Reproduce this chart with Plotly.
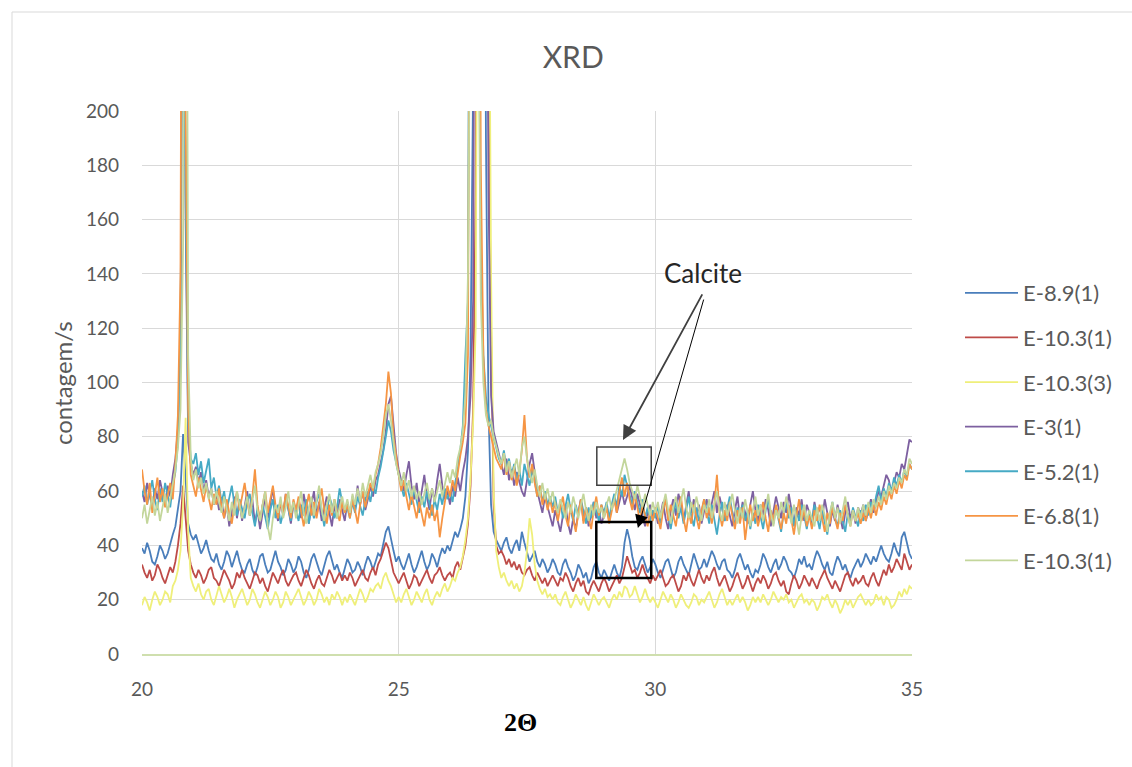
import numpy as np
import plotly.graph_objects as go

# 2-theta sampling grid (step 0.05 degree)
two_theta = np.round(np.linspace(20, 35, 301), 2)

e_8_9_1 = [
    39, 37, 41, 38, 34, 33, 36, 40, 38, 35, 37, 41, 44, 47, 53, 60, 81, 64, 48, 44,
    42, 44, 40, 37, 39, 42, 38, 35, 34, 37, 33, 31, 34, 38, 36, 32, 35, 38, 34, 31,
    30, 33, 35, 31, 29, 32, 36, 37, 33, 30, 31, 35, 38, 34, 32, 29, 31, 35, 33, 30,
    32, 36, 34, 30, 28, 31, 35, 37, 34, 31, 29, 33, 36, 38, 34, 31, 33, 30, 28, 32,
    35, 33, 30, 31, 34, 32, 29, 33, 36, 34, 31, 34, 37, 36, 40, 45, 47, 42, 38, 34,
    36, 33, 31, 34, 37, 33, 30, 32, 35, 38, 34, 31, 33, 37, 35, 32, 36, 39, 37, 40,
    38, 42, 45, 43, 46, 50, 58, 75, 110, 210, 620, 900, 760, 420, 190, 90, 55, 45, 42, 40,
    38, 41, 43, 39, 37, 40, 42, 38, 45, 41, 37, 34, 36, 38, 34, 32, 35, 33, 30, 32,
    35, 33, 30, 29, 33, 35, 32, 30, 27, 29, 33, 31, 28, 30, 26, 28, 32, 34, 30, 28,
    31, 29, 27, 30, 33, 30, 28, 32, 41, 46, 42, 36, 32, 31, 34, 36, 33, 30, 32, 35,
    33, 30, 28, 31, 34, 35, 31, 28, 30, 34, 36, 33, 31, 29, 33, 37, 34, 31, 32, 35,
    32, 35, 38, 36, 33, 31, 34, 35, 31, 30, 28, 31, 35, 37, 34, 31, 33, 30, 28, 31,
    30, 33, 37, 35, 32, 30, 33, 35, 31, 33, 36, 34, 31, 30, 28, 31, 35, 33, 36, 32,
    33, 31, 35, 38, 36, 33, 31, 34, 30, 29, 33, 36, 34, 31, 33, 30, 28, 31, 33, 35,
    32, 34, 37, 35, 33, 36, 34, 37, 40, 37, 35, 34, 37, 41, 38, 36, 43, 45, 41, 37,
    35,
]

e_10_3_1 = [
    33, 30, 28, 31, 27, 29, 33, 31, 28, 26, 29, 32, 30, 34, 40, 48, 62, 50, 38, 33,
    30, 28, 31, 29, 26, 28, 31, 32, 28, 27, 25, 28, 31, 29, 27, 24, 26, 30, 28, 31,
    28, 26, 24, 27, 30, 29, 26, 28, 25, 23, 27, 30, 28, 26, 29, 31, 27, 25, 27, 29,
    30, 27, 25, 28, 31, 29, 26, 24, 27, 29, 26, 25, 28, 31, 29, 26, 28, 30, 27, 29,
    27, 30, 28, 25, 27, 29, 31, 28, 27, 30, 32, 29, 33, 35, 38, 41, 39, 34, 30, 28,
    26, 28, 30, 27, 24, 26, 29, 28, 25, 27, 29, 31, 28, 26, 29, 30, 32, 29, 27, 29,
    30, 28, 32, 34, 31, 36, 40, 48, 62, 90, 170, 420, 850, 640, 350, 210, 120, 55, 40, 37,
    38, 36, 33, 35, 32, 34, 31, 33, 30, 29, 31, 32, 29, 27, 30, 28, 26, 28, 25, 27,
    29, 27, 25, 28, 27, 30, 28, 25, 23, 26, 28, 25, 27, 23, 22, 25, 27, 25, 23, 26,
    28, 26, 23, 25, 27, 29, 26, 28, 32, 36, 33, 30, 31, 28, 30, 33, 30, 28, 26, 29,
    27, 29, 31, 28, 25, 26, 28, 29, 26, 23, 25, 29, 27, 30, 27, 25, 28, 31, 28, 26,
    29, 27, 30, 32, 28, 25, 27, 29, 26, 23, 25, 28, 30, 27, 24, 26, 29, 26, 23, 26,
    28, 26, 29, 27, 24, 26, 29, 30, 27, 25, 27, 23, 22, 26, 29, 27, 24, 26, 29, 27,
    25, 28, 26, 24, 27, 29, 31, 28, 26, 24, 27, 25, 23, 26, 29, 30, 27, 25, 28, 26,
    27, 29, 26, 25, 28, 30, 27, 25, 28, 31, 29, 33, 30, 32, 35, 33, 31, 37, 34, 31,
    33,
]

e_10_3_3 = [
    18, 21, 19, 16, 20, 23, 21, 18, 20, 23, 22, 19, 25, 27, 31, 38, 55, 87, 45, 28,
    25, 23, 26, 22, 20, 23, 24, 20, 18, 22, 25, 22, 19, 21, 24, 21, 17, 20, 22, 24,
    21, 18, 20, 24, 22, 19, 17, 20, 23, 21, 18, 20, 23, 21, 17, 19, 23, 21, 18, 20,
    22, 24, 21, 18, 20, 23, 21, 18, 20, 24, 22, 19, 21, 18, 22, 20, 23, 21, 18, 21,
    19, 22, 20, 18, 21, 24, 22, 19, 21, 24, 23, 25, 26, 24, 28, 30, 27, 25, 22, 19,
    21, 19, 22, 24, 21, 18, 20, 23, 21, 19, 22, 24, 20, 18, 21, 23, 21, 24, 26, 23,
    25, 28, 27, 30, 32, 36, 42, 50, 65, 85, 120, 230, 600, 880, 650, 300, 140, 60, 38, 32,
    28, 30, 27, 25, 27, 24, 26, 23, 25, 30, 38, 50, 44, 33, 27, 24, 22, 24, 21, 22,
    20, 22, 19, 18, 21, 23, 20, 17, 19, 22, 20, 18, 21, 18, 16, 19, 22, 20, 18, 20,
    21, 19, 17, 20, 22, 20, 23, 21, 25, 24, 21, 22, 25, 22, 19, 21, 24, 21, 19, 21,
    19, 17, 20, 23, 21, 19, 22, 20, 17, 19, 22, 20, 18, 17, 19, 22, 21, 18, 20, 19,
    21, 23, 20, 17, 19, 22, 24, 21, 18, 20, 18, 20, 22, 19, 21, 19, 16, 18, 21, 19,
    21, 19, 22, 20, 18, 20, 23, 21, 19, 21, 20, 22, 19, 20, 17, 19, 21, 22, 19, 20,
    18, 20, 19, 16, 18, 21, 20, 22, 19, 17, 20, 18, 15, 17, 20, 18, 20, 17, 19, 21,
    22, 20, 18, 20, 18, 19, 22, 20, 21, 18, 21, 20, 17, 18, 20, 23, 21, 24, 22, 25,
    24,
]

e_3_1 = [
    60, 56, 63, 58, 54, 61, 57, 64, 59, 55, 62, 58, 66, 72, 83, 110, 330, 160, 78, 70,
    66, 69, 63, 67, 60, 64, 58, 61, 55, 59, 53, 57, 50, 55, 47, 52, 58, 50, 56, 49,
    54, 60, 51, 57, 48, 53, 46, 52, 58, 50, 55, 61, 53, 49, 56, 51, 59, 54, 48, 55,
    52, 57, 50, 59, 53, 48, 55, 60, 51, 56, 49, 54, 58, 52, 47, 55, 50, 57, 53, 49,
    56, 51, 58, 53, 62, 55, 60, 53, 57, 62, 58, 64, 66, 70, 75, 82, 92, 95, 84, 74,
    68, 64, 60, 66, 71, 62, 57, 63, 55, 60, 66, 58, 53, 61, 56, 64, 70, 62, 57, 60,
    55, 62, 58, 65, 60, 67, 72, 80, 95, 130, 220, 520, 900, 640, 330, 170, 95, 82, 78, 74,
    70, 66, 72, 64, 68, 62, 67, 63, 60, 58, 65, 70, 74, 66, 60, 56, 52, 58, 54, 50,
    47, 53, 49, 45, 51, 55, 48, 44, 50, 46, 52, 57, 49, 54, 47, 52, 56, 50, 53, 48,
    51, 55, 49, 54, 58, 52, 56, 60, 55, 58, 62, 57, 53, 59, 55, 50, 47, 52, 55, 50,
    53, 48, 51, 56, 50, 46, 53, 57, 51, 59, 55, 49, 54, 60, 52, 57, 50, 55, 48, 53,
    57, 51, 56, 60, 52, 58, 54, 49, 55, 51, 47, 53, 58, 50, 56, 52, 48, 55, 60, 53,
    49, 55, 51, 57, 53, 47, 52, 58, 54, 50, 56, 52, 59, 53, 48, 54, 51, 57, 49, 55,
    52, 48, 56, 51, 54, 50, 57, 52, 47, 53, 49, 55, 51, 46, 52, 56, 50, 53, 48, 54,
    51, 55, 49, 53, 57, 52, 56, 60, 58, 62, 66, 64, 59, 63, 67, 65, 70, 68, 74, 79,
    78,
]

e_5_2_1 = [
    58, 62, 55, 60, 64, 57, 53, 61, 56, 63, 59, 54, 62, 67, 78, 115, 300, 170, 85, 72,
    70, 74, 66, 71, 63, 68, 72, 61, 65, 58, 62, 56, 60, 53, 58, 62, 55, 51, 57, 53,
    50, 56, 59, 52, 47, 54, 49, 55, 51, 46, 53, 57, 50, 55, 48, 52, 58, 53, 49, 56,
    53, 49, 55, 51, 57, 48, 54, 50, 56, 59, 52, 47, 53, 58, 55, 50, 54, 61, 56, 52,
    54, 50, 56, 52, 58, 54, 51, 57, 60, 56, 62, 59, 65, 69, 74, 80, 86, 82, 75, 70,
    66, 62, 58, 63, 59, 55, 61, 57, 52, 58, 54, 60, 56, 51, 57, 53, 59, 55, 61, 57,
    60, 56, 63, 68, 75, 84, 110, 130, 420, 880, 600, 280, 150, 110, 95, 88, 84, 80, 76, 72,
    70, 75, 68, 72, 66, 70, 64, 68, 62, 70, 66, 62, 68, 64, 58, 62, 56, 60, 55, 58,
    54, 58, 52, 56, 50, 55, 59, 53, 49, 55, 51, 57, 53, 48, 54, 50, 56, 52, 49, 55,
    52, 56, 50, 55, 59, 54, 62, 58, 66, 62, 58, 55, 60, 56, 52, 57, 50, 54, 49, 53,
    50, 55, 48, 53, 57, 51, 46, 52, 56, 50, 54, 48, 53, 58, 51, 47, 54, 49, 52, 57,
    53, 48, 55, 50, 44, 51, 56, 49, 53, 58, 52, 47, 54, 50, 55, 49, 53, 46, 52, 48,
    55, 50, 46, 53, 57, 51, 48, 54, 49, 45, 52, 56, 50, 54, 47, 53, 49, 55, 51, 46,
    52, 49, 55, 50, 46, 53, 48, 44, 51, 56, 50, 47, 53, 49, 45, 52, 48, 54, 50, 47,
    53, 49, 55, 51, 56, 53, 58, 62, 56, 61, 58, 63, 60, 65, 62, 66, 63, 68, 65, 70,
    68,
]

e_6_8_1 = [
    68, 60, 55, 63, 52, 58, 65, 56, 61, 54, 59, 63, 57, 70, 88, 140, 450, 200, 90, 66,
    62, 58, 65, 60, 56, 62, 57, 53, 59, 55, 61, 54, 50, 57, 52, 48, 55, 60, 53, 58,
    63, 56, 51, 58, 68, 55, 49, 55, 60, 52, 57, 62, 55, 50, 56, 52, 59, 54, 50, 57,
    53, 58, 52, 47, 54, 59, 51, 56, 50, 55, 61, 53, 48, 55, 51, 57, 52, 49, 56, 52,
    55, 50, 57, 53, 48, 55, 60, 54, 58, 63, 60, 66, 70, 76, 84, 92, 104, 96, 80, 72,
    66, 60, 64, 58, 53, 59, 55, 50, 56, 52, 47, 54, 50, 55, 49, 53, 43, 50, 57, 62,
    58, 64, 60, 67, 73, 78, 85, 110, 190, 700, 880, 420, 180, 110, 90, 84, 80, 76, 72, 70,
    68, 74, 66, 71, 64, 69, 62, 67, 75, 88, 72, 65, 70, 63, 58, 62, 55, 59, 53, 57,
    52, 56, 49, 54, 58, 51, 47, 55, 50, 45, 52, 57, 48, 54, 50, 46, 53, 58, 51, 55,
    50, 54, 48, 53, 57, 52, 60, 65, 58, 63, 57, 53, 59, 54, 49, 55, 51, 47, 53, 49,
    54, 50, 46, 53, 57, 49, 55, 51, 47, 54, 58, 50, 45, 52, 48, 55, 51, 46, 53, 57,
    50, 54, 48, 55, 66, 52, 47, 53, 49, 56, 51, 46, 53, 48, 54, 42, 50, 55, 49, 53,
    47, 52, 56, 50, 45, 53, 49, 55, 51, 46, 52, 48, 55, 50, 44, 51, 57, 49, 53, 47,
    51, 46, 53, 49, 55, 50, 45, 52, 48, 54, 50, 46, 52, 49, 55, 51, 47, 53, 49, 52,
    48, 52, 49, 54, 50, 55, 51, 56, 53, 58, 55, 60, 57, 62, 59, 64, 61, 66, 64, 70,
    68,
]

e_10_3_1b = [
    50, 55, 48, 53, 58, 51, 56, 49, 54, 59, 52, 57, 63, 68, 76, 90, 150, 420, 110, 72,
    64, 68, 61, 65, 59, 63, 57, 61, 55, 60, 56, 52, 58, 54, 49, 56, 51, 60, 55, 50,
    54, 58, 51, 56, 62, 53, 49, 55, 60, 47, 42, 50, 55, 52, 58, 50, 54, 60, 52, 56,
    50, 55, 60, 52, 48, 54, 58, 51, 56, 62, 53, 49, 55, 59, 52, 57, 50, 54, 58, 53,
    57, 52, 59, 55, 61, 56, 63, 58, 62, 66, 61, 67, 70, 74, 80, 88, 92, 86, 78, 70,
    66, 62, 67, 60, 64, 58, 62, 57, 60, 55, 59, 63, 57, 61, 56, 60, 64, 58, 62, 67,
    63, 68, 65, 72, 76, 82, 95, 140, 260, 820, 600, 250, 130, 100, 88, 84, 86, 80, 76, 73,
    70, 74, 67, 71, 65, 69, 72, 66, 76, 80, 72, 67, 63, 68, 62, 58, 63, 57, 61, 56,
    60, 55, 52, 57, 53, 50, 56, 52, 58, 54, 50, 55, 59, 53, 49, 55, 51, 56, 52, 54,
    50, 55, 58, 53, 57, 61, 65, 68, 72, 68, 63, 60, 57, 62, 58, 54, 59, 55, 51, 56,
    52, 56, 50, 55, 59, 53, 48, 54, 58, 52, 57, 61, 54, 50, 56, 52, 58, 53, 49, 55,
    52, 57, 50, 55, 60, 53, 49, 56, 51, 55, 59, 53, 48, 54, 50, 57, 52, 47, 53, 58,
    51, 55, 49, 54, 59, 52, 47, 53, 50, 56, 52, 58, 53, 48, 55, 50, 44, 51, 55, 49,
    53, 50, 47, 54, 49, 55, 51, 45, 52, 56, 50, 54, 48, 53, 58, 51, 47, 53, 49, 54,
    50, 55, 51, 56, 52, 57, 54, 58, 55, 60, 57, 62, 59, 63, 61, 65, 63, 68, 66, 72,
    70,
]

series_names = ["E-8.9(1)", "E-10.3(1)", "E-10.3(3)", "E-3(1)", "E-5.2(1)", "E-6.8(1)", "E-10.3(1)"]
series_values = [e_8_9_1, e_10_3_1, e_10_3_3, e_3_1, e_5_2_1, e_6_8_1, e_10_3_1b]
series_colors = ["#4a7ebb", "#be4b48", "#efef7a", "#7d60a0", "#46aac5", "#f69544", "#c3d69b"]

for vals in series_values:
    assert len(vals) == len(two_theta), len(vals)

# Calcite marker boxes (2theta range, counts range)
calcite_box_upper = dict(x0=28.86, x1=29.92, y0=62.2, y1=76.2)
calcite_box_lower = dict(x0=28.85, x1=29.92, y0=28.0, y1=48.6)

fig = go.Figure()
for i, (name, vals, col) in enumerate(zip(series_names, series_values, series_colors)):
    fig.add_trace(go.Scatter(
        x=two_theta, y=vals, mode="lines", name=name,
        line=dict(color=col, width=1.8),
        legendgroup=f"g{i}",
    ))

grey = "#595959"
sans = "Lato, Open Sans, sans-serif"
fig.update_layout(
    width=1132, height=767,
    margin=dict(l=142, r=220, t=111, b=113),
    paper_bgcolor="white", plot_bgcolor="white",
    font=dict(family=sans, color=grey, size=19),
    title=dict(text="XRD", x=0.56, xref="paper", xanchor="center",
               y=1 - 57 / 767, yref="container", yanchor="middle",
               font=dict(size=30, color=grey, family=sans)),
    showlegend=True,
    legend=dict(x=(960 - 142) / 770, xanchor="left", y=0.418, yanchor="middle",
                font=dict(size=22, color=grey, family=sans), tracegroupgap=13,
                itemwidth=53, bgcolor="rgba(0,0,0,0)"),
    xaxis=dict(range=[20, 35], dtick=5, tick0=20, showgrid=True, gridcolor="#d9d9d9",
               gridwidth=1, zeroline=False, showline=True, linecolor="#cfdfae",
               linewidth=2, ticks="", ticklabelstandoff=17,
               tickfont=dict(size=19, color=grey)),
    yaxis=dict(range=[0, 200], dtick=20, tick0=0, showgrid=True, gridcolor="#d9d9d9",
               gridwidth=1, zeroline=False, showline=False, ticks="",
               ticklabelstandoff=22, tickfont=dict(size=19, color=grey)),
)

# chart area frame
fig.add_shape(type="rect", xref="paper", yref="paper",
              x0=(12 - 142) / 770, x1=(1140 - 142) / 770,
              y0=(654 - 775) / 543, y1=(654 - 12) / 543,
              line=dict(color="#d9d9d9", width=1), layer="below")

# axis titles
fig.add_annotation(text="contagem/s", xref="paper", yref="paper",
                   x=(62 - 142) / 770, y=(654 - 383) / 543, textangle=-90, showarrow=False,
                   xanchor="center", yanchor="middle",
                   font=dict(size=24, color=grey))
fig.add_annotation(text="<b>2Θ</b>", xref="paper", yref="paper",
                   x=(520 - 142) / 770, y=(654 - 722) / 543, showarrow=False,
                   xanchor="center", yanchor="middle",
                   font=dict(size=26, color="black", family="Liberation Serif, DejaVu Serif, serif"))

# calcite annotation
fig.add_annotation(text="Calcite", x=30.93, y=140.3, xref="x", yref="y",
                   xanchor="center", yanchor="middle",
                   showarrow=False, font=dict(size=26, color="#262626"))
fig.add_annotation(x=29.37, y=78.8, ax=30.93, ay=133.0, axref="x", ayref="y",
                   xref="x", yref="y", text="", showarrow=True,
                   arrowhead=2, arrowsize=1.6, arrowwidth=1.8, arrowcolor="#404040")
fig.add_annotation(x=29.66, y=46.4, ax=30.95, ay=131.1, axref="x", ayref="y",
                   xref="x", yref="y", text="", showarrow=True,
                   arrowhead=2, arrowsize=2.6, arrowwidth=1, arrowcolor="black")
fig.add_shape(type="rect", xref="x", yref="y", **calcite_box_upper,
              line=dict(color="#404040", width=1.5))
fig.add_shape(type="rect", xref="x", yref="y", **calcite_box_lower,
              line=dict(color="black", width=2.5))

fig.write_html("out.html")
